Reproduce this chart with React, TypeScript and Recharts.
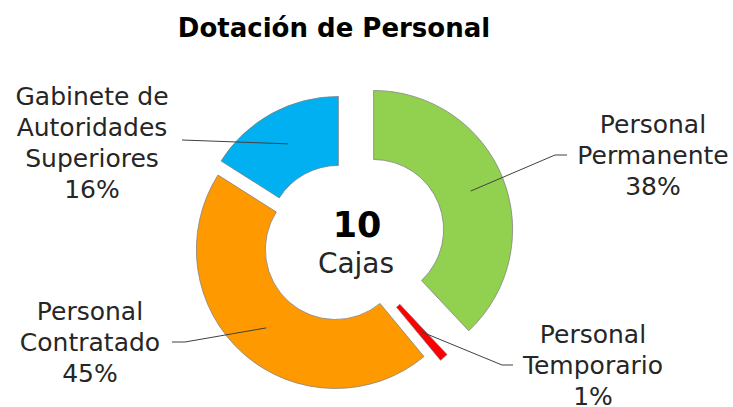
import React from "react";
import { PieChart, Pie, Cell } from "recharts";

const categories = [
  "Personal Permanente",
  "Personal Temporario",
  "Personal Contratado",
  "Gabinete de Autoridades Superiores",
];
const values = [38, 1, 45, 16];
const labelLines = [
  ["Personal", "Permanente"],
  ["Personal", "Temporario"],
  ["Personal", "Contratado"],
  ["Gabinete de", "Autoridades", "Superiores"],
];
const centerValue = "10";
const centerUnit = "Cajas";
const title = "Dotación de Personal";

const colors = ["#92D050", "#FF0000", "#FF9900", "#00B0F0"];
const explode = [34, 15, 10, 7.5];
const BASE_CX = 342;
const BASE_CY = 242;
const INNER = 70;
const OUTER = 139;
const FONT = "'DejaVu Sans', sans-serif";

// label layout: text center x, first baseline y, leader path end points
const labelLayout = [
  { tx: 653, ty: 133, knee: [555, 155], end: [567, 155] },
  { tx: 593, ty: 343, knee: [502, 365], end: [513, 365] },
  { tx: 90, ty: 320, knee: [185, 342], end: [172, 342] },
  { tx: 92, ty: 105, knee: [182, 140], end: [182, 140] },
];

const data = categories.map((name, i) => ({ name, value: values[i] }));
const total = values.reduce((a, b) => a + b, 0);

function midAngleOf(i: number) {
  let before = 0;
  for (let k = 0; k < i; k++) before += values[k];
  const frac = (before + values[i] / 2) / total;
  return frac * 2 * Math.PI; // clockwise from top
}

const RAD = Math.PI / 180;

function makeLabel(target: number) {
  return (props: any) => {
    if (props.index !== target) return null;
    const { cx, cy, midAngle } = props;
    const r = (INNER + OUTER) / 2;
    const sx = cx + r * Math.cos(-midAngle * RAD);
    const sy = cy + r * Math.sin(-midAngle * RAD);
    const L = labelLayout[target];
    const lines = [...labelLines[target], `${Math.round((values[target] / total) * 100)}%`];
    return (
      <g key={`lbl-${target}`}>
        <path
          d={`M${sx},${sy}L${L.knee[0]},${L.knee[1]}L${L.end[0]},${L.end[1]}`}
          stroke="#404040"
          strokeWidth={1}
          fill="none"
        />
        <text
          x={L.tx}
          y={L.ty}
          textAnchor="middle"
          fill="#262626"
          fontFamily={FONT}
          fontSize={25}
        >
          {lines.map((t, j) => (
            <tspan key={j} x={L.tx} dy={j === 0 ? 0 : 31}>
              {t}
            </tspan>
          ))}
        </text>
      </g>
    );
  };
}

export default function App() {
  return (
    <div style={{ position: "fixed", left: 0, top: 0, width: 733, height: 407, background: "#fff" }}>
      <PieChart width={733} height={407} margin={{ top: 0, right: 0, bottom: 0, left: 0 }}>
        {data.map((_, target) => {
          const a = midAngleOf(target);
          const cx = BASE_CX + explode[target] * Math.sin(a);
          const cy = BASE_CY - explode[target] * Math.cos(a);
          return (
            <Pie
              key={target}
              data={data}
              dataKey="value"
              nameKey="name"
              cx={cx}
              cy={cy}
              innerRadius={INNER}
              outerRadius={OUTER}
              startAngle={90}
              endAngle={-270}
              isAnimationActive={false}
              labelLine={false}
              label={makeLabel(target)}
            >
              {data.map((d, i) => (
                <Cell
                  key={i}
                  fill={i === target ? colors[i] : "transparent"}
                  stroke={i === target ? "#7F7F7F" : "none"}
                  strokeWidth={0.75}
                />
              ))}
            </Pie>
          );
        })}
        <text x={334} y={37} textAnchor="middle" fontFamily={FONT} fontWeight="bold" fontSize={26} fill="#000">
          {title}
        </text>
        <text x={357} y={237} textAnchor="middle" fontFamily={FONT} fontWeight="bold" fontSize={35} fill="#000">
          {centerValue}
        </text>
        <text x={356} y={273} textAnchor="middle" fontFamily={FONT} fontSize={28} fill="#262626">
          {centerUnit}
        </text>
      </PieChart>
    </div>
  );
}
